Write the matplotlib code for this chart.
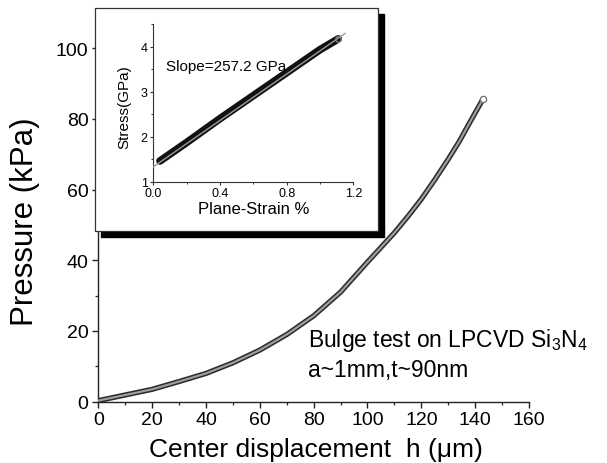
import matplotlib
matplotlib.use("Agg")
import matplotlib.pyplot as plt
from matplotlib.patches import Rectangle
from matplotlib.ticker import MultipleLocator

plt.rcParams['font.family'] = ['Liberation Sans', 'DejaVu Sans']
plt.rcParams['mathtext.fontset'] = 'custom'
plt.rcParams['mathtext.rm'] = 'Liberation Sans'

# Bulge test: pressure vs. centre displacement
h_um = [0, 5, 10, 15, 20, 30, 40, 50, 60, 70, 80, 90, 100, 110, 115, 120, 125, 130, 134, 138, 142.9]
p_kpa = [0.3, 1.1, 1.9, 2.7, 3.5, 5.7, 8.0, 11.0, 14.6, 19.0, 24.3, 31.0, 39.5, 47.8, 52.4, 57.3, 62.8, 68.6, 73.5, 79.0, 85.6]

# Inset: stress vs plane strain, with linear fit
strain_pct = [0.04, 0.2, 0.4, 0.6, 0.8, 1.0, 1.11]
stress_gpa = [1.46, 1.87, 2.40, 2.91, 3.42, 3.93, 4.17]
fit_strain = [0.0, 1.15]
fit_stress = [1.33, 4.29]

x_ticks = [0, 20, 40, 60, 80, 100, 120, 140, 160]
y_ticks = [0, 20, 40, 60, 80, 100]
inset_x_ticks = [0.0, 0.4, 0.8, 1.2]
inset_x_labels = ["0.0", "0.4", "0.8", "1.2"]
inset_y_ticks = [1, 2, 3, 4]

W, H = 607, 464
fig = plt.figure(figsize=(W / 100, H / 100), dpi=100)

def fx(px):
    return px / W

def fy(py):
    return 1 - py / H

# main axes: x 0..160 spans px 98.3..529, y 0 at px 402.7, 3.535 px/kPa
y_top = 110
ax = fig.add_axes([fx(98.3), fy(402.7), fx(529) - fx(98.3), (y_top * 3.535) / H])
ax.set_xlim(0, 160)
ax.set_ylim(0, y_top)
for s in ("top", "right"):
    ax.spines[s].set_visible(False)
for s in ("left", "bottom"):
    ax.spines[s].set_linewidth(1.0)
    ax.spines[s].set_color("#222222")
ax.set_xticks(x_ticks)
ax.set_yticks(y_ticks)
ax.xaxis.set_minor_locator(MultipleLocator(10))
ax.yaxis.set_minor_locator(MultipleLocator(10))
ax.tick_params(which="major", direction="out", length=4, width=1.0, labelsize=14,
               color="#222222", pad=3)
ax.tick_params(which="minor", direction="out", length=2.5, width=0.9, color="#222222")

ax.plot(h_um, p_kpa, color="#2e2e2e", lw=3.8, solid_capstyle="round",
        solid_joinstyle="round", zorder=3)
ax.plot(h_um, p_kpa, color="#a0a0a0", lw=1.5, solid_capstyle="round",
        solid_joinstyle="round", zorder=4)
ax.plot(h_um[-1:], p_kpa[-1:], "o", ms=4.5, mfc="white", mec="#777777", mew=1.0, zorder=5)

ax.text(77.9, 15.8, r"Bulge test on LPCVD Si$_\mathregular{3}$N$_\mathregular{4}$",
        fontsize=16.5, ha="left", va="baseline")
ax.text(77.9, 7.3, "a~1mm,t~90nm", fontsize=16.5, ha="left", va="baseline")

fig.text(fx(315.5), fy(457), "Center displacement  h (\u03bcm)", fontsize=19,
         ha="center", va="baseline")
fig.text(fx(25), fy(222), "Pressure (kPa)", fontsize=22.5, rotation=90,
         ha="center", va="center")

# inset frame with drop shadow
bx0, by0, bx1, by1 = 95, 9.3, 378, 232.3
off = 6
fig.patches.append(Rectangle((fx(bx0 + off), fy(by1 + off)), fx(bx1) - fx(bx0),
                             fy(by0) - fy(by1), transform=fig.transFigure,
                             facecolor="black", edgecolor="black", zorder=1))
fig.patches.append(Rectangle((fx(bx0), fy(by1)), fx(bx1) - fx(bx0),
                             fy(by0) - fy(by1), transform=fig.transFigure,
                             facecolor="white", edgecolor="#333333", lw=0.9, zorder=1.1))

# inset axes: x 0..1.2 spans px 153.3..353.3, y 1..4.5 spans px 182.7..25
ins = fig.add_axes([fx(153.3), fy(182.7), fx(353.3) - fx(153.3), fy(25) - fy(182.7)])
ins.set_zorder(2)
ins.patch.set_alpha(0)
ins.set_xlim(0, 1.2)
ins.set_ylim(1, 4.5)
for s in ("top", "right"):
    ins.spines[s].set_visible(False)
for s in ("left", "bottom"):
    ins.spines[s].set_linewidth(0.8)
    ins.spines[s].set_color("#333333")
ins.set_xticks(inset_x_ticks)
ins.set_xticklabels(inset_x_labels)
ins.set_yticks(inset_y_ticks)
ins.xaxis.set_minor_locator(MultipleLocator(0.2))
ins.yaxis.set_minor_locator(MultipleLocator(0.5))
ins.tick_params(which="major", direction="out", length=2.5, width=0.8, labelsize=9,
                color="#333333", pad=1.5)
ins.tick_params(which="minor", direction="out", length=1.5, width=0.7, color="#333333")

ins.plot(strain_pct, stress_gpa, color="#111111", lw=5.5, solid_capstyle="round", zorder=3)
ins.plot(fit_strain, fit_stress, color="#9a9a9a", lw=1.0, zorder=4)
ins.plot(strain_pct[-1:], stress_gpa[-1:], "o", ms=4, mfc="none", mec="#888888", mew=0.9, zorder=5)

ins.text(0.076, 3.57, "Slope=257.2 GPa", fontsize=11, ha="left", va="center")
ins.set_xlabel("Plane-Strain %", fontsize=12, labelpad=1)
fig.text(fx(124), fy(107), "Stress(GPa)", fontsize=11, rotation=90,
         ha="center", va="center")

fig.savefig("out.png", dpi=100)
